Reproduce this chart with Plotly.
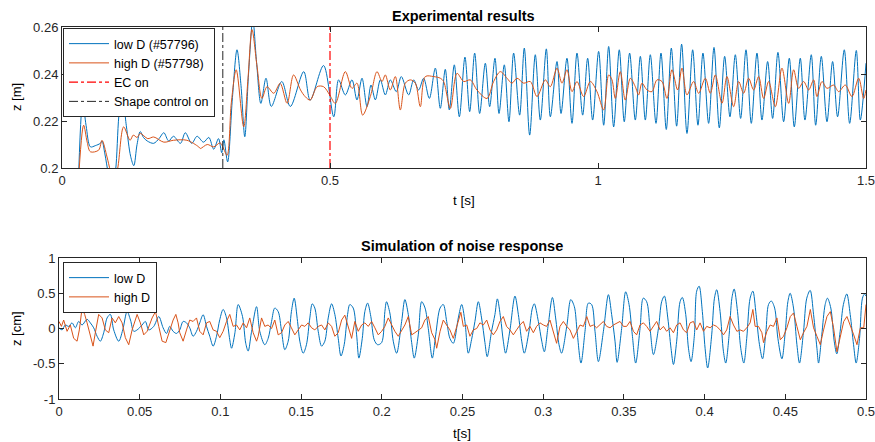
import plotly.graph_objects as go

# ---------------- data: experimental results ----------------
exp_low_t = [0.030, 0.0386, 0.045, 0.053, 0.062, 0.0715, 0.0746, 0.080, 0.086, 0.093, 0.100, 0.106, 0.112, 0.120,
             0.128, 0.134, 0.140, 0.146, 0.152, 0.159, 0.171, 0.181, 0.190, 0.199, 0.208, 0.221, 0.230, 0.242,
             0.252, 0.264, 0.274, 0.283, 0.292, 0.298, 0.302, 0.309, 0.318, 0.3265, 0.334, 0.341, 0.348, 0.356,
             0.363, 0.371, 0.3806, 0.3905, 0.410, 0.426, 0.451, 0.463, 0.488, 0.507, 0.516, 0.5286, 0.541, 0.5503,
             0.5597, 0.569, 0.5765, 0.5846, 0.5939, 0.6032, 0.6125, 0.6237, 0.633, 0.6467, 0.6561, 0.6654, 0.6747,
             0.6853, 0.6965, 0.7058, 0.7151, 0.7226, 0.7319, 0.7413, 0.7518, 0.7606, 0.7699, 0.7792, 0.7898, 0.7979,
             0.8078, 0.8153, 0.8252, 0.8339, 0.8426, 0.8538, 0.8625, 0.8725, 0.883, 0.8924, 0.9036, 0.9111, 0.9235,
             0.931, 0.9421, 0.9515, 0.9608, 0.9714, 0.9807, 0.990, 1.0012, 1.0106, 1.0199, 1.0292, 1.0397, 1.049,
             1.059, 1.0696, 1.079, 1.0883, 1.0976, 1.1082, 1.1175, 1.1274, 1.1368, 1.1467, 1.156, 1.166, 1.1766,
             1.1865, 1.1958, 1.2064, 1.2164, 1.2263, 1.2363, 1.2462, 1.2562, 1.2661, 1.2761, 1.286, 1.2966, 1.3059,
             1.3165, 1.3258, 1.3357, 1.3463, 1.3569, 1.3662, 1.3774, 1.3861, 1.3979, 1.4061, 1.4166, 1.4272, 1.4377,
             1.447, 1.4595, 1.4695, 1.4819, 1.4894, 1.5]
exp_low_z = [0.190, 0.228, 0.218, 0.209, 0.2095, 0.2105, 0.2115, 0.206, 0.198, 0.190, 0.199, 0.222, 0.232, 0.218,
             0.205, 0.201, 0.210, 0.2155, 0.213, 0.2115, 0.2105, 0.2125, 0.215, 0.2115, 0.2135, 0.2105, 0.215, 0.2105,
             0.2135, 0.211, 0.213, 0.208, 0.2125, 0.2065, 0.212, 0.2026, 0.230, 0.2503, 0.235, 0.2133, 0.240, 0.263,
             0.245, 0.2275, 0.2382, 0.2262, 0.2368, 0.2262, 0.241, 0.2289, 0.2436, 0.2218, 0.2375, 0.2311, 0.2375, 0.229,
             0.2382, 0.2261, 0.2353, 0.229, 0.2375, 0.2311, 0.2375, 0.2325, 0.2389, 0.2311, 0.2375, 0.2332, 0.2382,
             0.2296, 0.2425, 0.2254, 0.242, 0.2247, 0.2439, 0.2218, 0.2472, 0.224, 0.2489, 0.2232, 0.2446, 0.2261,
             0.2467, 0.2232, 0.2439, 0.2197, 0.2489, 0.2225, 0.251, 0.214, 0.2482, 0.2204, 0.2507, 0.2218, 0.2453,
             0.2232, 0.2467, 0.219, 0.2489, 0.2225, 0.2467, 0.2204, 0.2496, 0.2182, 0.2517, 0.2175, 0.2503, 0.2197,
             0.2489, 0.2204, 0.2475, 0.2204, 0.2482, 0.219, 0.2489, 0.2164, 0.251, 0.2178, 0.2527, 0.2147, 0.2503,
             0.2182, 0.2489, 0.219, 0.2513, 0.2171, 0.2475, 0.2218, 0.2482, 0.2211, 0.2503, 0.219, 0.2489, 0.2204,
             0.2453, 0.2211, 0.2492, 0.2197, 0.2467, 0.2175, 0.2467, 0.2204, 0.2482, 0.2182, 0.2475, 0.2197, 0.2453,
             0.2218, 0.2503, 0.219, 0.25, 0.2204, 0.2446]

exp_high_t = [0.030, 0.0404, 0.047, 0.053, 0.0684, 0.0746, 0.084, 0.090, 0.097, 0.104, 0.115, 0.127, 0.133, 0.140,
              0.146, 0.160, 0.171, 0.190, 0.208, 0.233, 0.255, 0.258, 0.271, 0.283, 0.295, 0.300, 0.308, 0.316,
              0.325, 0.339, 0.347, 0.3545, 0.364, 0.373, 0.3825, 0.395, 0.407, 0.420, 0.432, 0.445, 0.454, 0.463,
              0.476, 0.488, 0.4994, 0.5099, 0.5286, 0.541, 0.5503, 0.5609, 0.5752, 0.5877, 0.597, 0.6032, 0.6125,
              0.6219, 0.6312, 0.6405, 0.6499, 0.6592, 0.6685, 0.6778, 0.6934, 0.7058, 0.712, 0.7245, 0.7369, 0.7494,
              0.7618, 0.7742, 0.7929, 0.8053, 0.8178, 0.8302, 0.8395, 0.8489, 0.8613, 0.8737, 0.8862, 0.9017, 0.911,
              0.9235, 0.9328, 0.9421, 0.9515, 0.9608, 0.9732, 0.9857, 0.9981, 1.0106, 1.0199, 1.0261, 1.0323, 1.0416,
              1.0509, 1.0603, 1.0696, 1.0758, 1.082, 1.0914, 1.1007, 1.11, 1.1194, 1.1287, 1.138, 1.1486, 1.1567,
              1.166, 1.1784, 1.1878, 1.2002, 1.2095, 1.2189, 1.2313, 1.2406, 1.2531, 1.2624, 1.2717, 1.281, 1.2904,
              1.2997, 1.309, 1.3184, 1.3308, 1.3432, 1.3557, 1.365, 1.3743, 1.3837, 1.393, 1.4023, 1.4085, 1.4179,
              1.4272, 1.4396, 1.449, 1.4614, 1.4738, 1.4863, 1.4956, 1.5]
exp_high_z = [0.192, 0.2182, 0.211, 0.2069, 0.2076, 0.2118, 0.2047, 0.199, 0.194, 0.200, 0.2175, 0.2118, 0.214, 0.213,
              0.2147, 0.2125, 0.2132, 0.211, 0.2118, 0.2118, 0.209, 0.2083, 0.210, 0.209, 0.2107, 0.209, 0.2054, 0.228,
              0.2418, 0.2175, 0.238, 0.2589, 0.243, 0.2296, 0.2346, 0.2318, 0.236, 0.2275, 0.2396, 0.2332, 0.2303, 0.2289,
              0.2346, 0.2346, 0.2311, 0.2275, 0.241, 0.2339, 0.2361, 0.2225, 0.2304, 0.241, 0.2368, 0.2396, 0.2332,
              0.2389, 0.2247, 0.2361, 0.2375, 0.2361, 0.2261, 0.2389, 0.2389, 0.2382, 0.2368, 0.2254, 0.2403, 0.2368,
              0.2375, 0.2332, 0.2296, 0.2368, 0.241, 0.2382, 0.2361, 0.2382, 0.2361, 0.2368, 0.2304, 0.2375, 0.2346,
              0.2425, 0.2361, 0.2418, 0.2325, 0.2368, 0.2304, 0.2368, 0.2325, 0.2247, 0.2396, 0.2375, 0.2296, 0.241,
              0.2289, 0.2382, 0.2346, 0.2311, 0.2361, 0.2332, 0.2325, 0.2375, 0.2368, 0.2296, 0.2418, 0.2332, 0.2425,
              0.2311, 0.2368, 0.2318, 0.2382, 0.2318, 0.2396, 0.2275, 0.2389, 0.2261, 0.2368, 0.2318, 0.2382, 0.2332,
              0.2389, 0.2296, 0.2368, 0.2261, 0.2425, 0.2275, 0.2418, 0.2339, 0.2368, 0.2332, 0.2375, 0.2304, 0.2368,
              0.2339, 0.2353, 0.2325, 0.2353, 0.2304, 0.2382, 0.2296, 0.2332]

ec_on_time = 0.5
shape_control_time = 0.3
exp_z_range = [0.2, 0.26]

# ---------------- data: simulation of noise response ----------------
sim_low_t = [0.0, 0.0019, 0.0039, 0.006, 0.0081, 0.0101, 0.0122, 0.0143, 0.0174, 0.0194, 0.0215, 0.0236, 0.0256,
             0.0277, 0.0298, 0.0318, 0.0339, 0.037, 0.0395, 0.0422, 0.0443, 0.0463, 0.0484, 0.0515, 0.0535, 0.0556,
             0.0587, 0.0618, 0.0645, 0.0666, 0.0686, 0.0707, 0.0728, 0.0748, 0.0769, 0.079, 0.081, 0.0831, 0.0852,
             0.0872, 0.0893, 0.0914, 0.0934, 0.0955, 0.0976, 0.0996, 0.1017, 0.1038, 0.1058, 0.1069, 0.109, 0.111,
             0.1137, 0.1157, 0.1172, 0.1192, 0.1224, 0.1244, 0.1275, 0.1296, 0.1317, 0.1337, 0.1358, 0.1379, 0.1399,
             0.142, 0.144, 0.1457, 0.1478, 0.1492, 0.1513, 0.1533, 0.1554, 0.1569, 0.1585, 0.1606, 0.1627, 0.1647,
             0.1668, 0.1689, 0.1709, 0.173, 0.1747, 0.1767, 0.1788, 0.1802, 0.1823, 0.1844, 0.1858, 0.1879, 0.1895,
             0.1912, 0.1932, 0.1953, 0.1974, 0.1999, 0.2019, 0.2029, 0.205, 0.2071, 0.2092, 0.2123, 0.2143, 0.2164,
             0.2185, 0.2201, 0.2226, 0.2247, 0.2268, 0.2288, 0.2313, 0.2334, 0.2361, 0.2381, 0.2402, 0.2422, 0.2443,
             0.2474, 0.2495, 0.2515, 0.2536, 0.2556, 0.2577, 0.2598, 0.2618, 0.2639, 0.2653, 0.268, 0.2701, 0.2716,
             0.2736, 0.2753, 0.2767, 0.2794, 0.2825, 0.2846, 0.2867, 0.2883, 0.2912, 0.2933, 0.2945, 0.297, 0.2991,
             0.3007, 0.3031, 0.3057, 0.3077, 0.3098, 0.3114, 0.3146, 0.3171, 0.3193, 0.321, 0.3234, 0.3259, 0.328,
             0.33, 0.3321, 0.3342, 0.3373, 0.3404, 0.3424, 0.3445, 0.3458, 0.3486, 0.3511, 0.3532, 0.3552, 0.3573,
             0.36, 0.362, 0.3641, 0.3662, 0.3683, 0.3714, 0.3734, 0.3751, 0.3772, 0.3792, 0.3807, 0.3827, 0.3848,
             0.3862, 0.3883, 0.39, 0.3916, 0.3937, 0.3951, 0.3966, 0.3986, 0.4003, 0.4019, 0.4044, 0.4061, 0.4075,
             0.4096, 0.4117, 0.4131, 0.4152, 0.4169, 0.4183, 0.4204, 0.4224, 0.4243, 0.4261, 0.4282, 0.4299, 0.4319,
             0.434, 0.4359, 0.438, 0.4396, 0.4413, 0.4434, 0.4454, 0.4479, 0.45, 0.4516, 0.453, 0.4551, 0.4572,
             0.4588, 0.4613, 0.4633, 0.4654, 0.4675, 0.4696, 0.4706, 0.4726, 0.4747, 0.4761, 0.4782, 0.4803, 0.4819,
             0.484, 0.486, 0.4881, 0.4902, 0.4923, 0.4939, 0.496, 0.4978, 0.4991, 0.5]
sim_low_z = [0.01, -0.02, 0.05, 0.03, 0.08, 0.01, 0.1, 0.05, 0.13, 0.08, 0.01, -0.11, -0.18,
             -0.06, 0.15, 0.2, -0.02, -0.18, -0.02, 0.24, 0.12, -0.04, -0.02, 0.05, 0.1, -0.02,
             0.03, 0.17, 0.01, -0.07, 0.03, -0.04, -0.07, -0.02, 0.1, 0.08, 0.01, -0.11, -0.04,
             0.08, 0.195, 0.03, -0.11, -0.25, -0.11, 0.125, 0.27, 0.15, -0.16, -0.28, -0.06, 0.34,
             0.17, -0.21, -0.32, -0.06, 0.31, -0.04, -0.23, -0.14, 0.10, 0.29, 0.24, -0.04, -0.30,
             -0.18, 0.24, 0.43, 0.10, -0.18, -0.35, -0.23, 0.15, 0.35, 0.29, -0.04, -0.25, -0.18,
             0.15, 0.35, 0.2, -0.14, -0.39, -0.23, 0.2, 0.34, 0.29, -0.09, -0.42, -0.14, 0.24,
             0.36, 0.17, -0.16, -0.23, -0.2, 0.24, 0.38, 0.22, -0.18, -0.35, 0.1, 0.41, 0.2,
             -0.2, -0.42, -0.09, 0.38, 0.29, 0.0, -0.42, -0.09, 0.29, 0.34, 0.1, -0.14, -0.21,
             0.15, 0.34, 0.1, -0.35, -0.16, 0.1, 0.38, 0.15, -0.2, -0.4, -0.04, 0.2, 0.42,
             0.15, -0.18, -0.35, -0.02, 0.46, 0.2, -0.18, -0.35, -0.04, 0.29, 0.35, 0.1, -0.18,
             -0.33, 0.05, 0.44, 0.15, -0.23, -0.35, 0.03, 0.41, 0.31, -0.04, -0.49, -0.04, 0.36,
             0.34, -0.04, -0.47, -0.04, 0.48, 0.2, -0.18, -0.48, 0.0, 0.52, 0.34, -0.09, -0.49,
             0.0, 0.43, 0.38, 0.0, -0.37, 0.0, 0.38, 0.46, 0.15, -0.28, -0.51, -0.18, 0.38,
             0.44, 0.2, -0.28, -0.47, -0.09, 0.53, 0.6, 0.24, -0.28, -0.56, -0.09, 0.43, 0.55,
             0.24, -0.33, -0.49, -0.09, 0.43, 0.56, 0.24, -0.28, -0.49, -0.14, 0.43, 0.53, 0.2,
             -0.23, -0.43, -0.04, 0.34, 0.39, 0.29, -0.14, -0.43, -0.04, 0.38, 0.5, 0.29, -0.23,
             -0.49, -0.04, 0.43, 0.54, 0.2, -0.28, -0.49, -0.09, 0.34, 0.43, 0.29, -0.18, -0.36,
             -0.04, 0.34, 0.49, 0.2, -0.23, -0.49, -0.14, 0.43, 0.49, 0.46]

sim_high_t = [0.0, 0.0015, 0.0029, 0.005, 0.007, 0.0091, 0.0112, 0.0126, 0.0143, 0.0159, 0.0174, 0.0194, 0.0211,
              0.0225, 0.0246, 0.0267, 0.0287, 0.0308, 0.0329, 0.0349, 0.037, 0.0391, 0.0411, 0.0432, 0.0453, 0.0484,
              0.0504, 0.0525, 0.0546, 0.0577, 0.0598, 0.0618, 0.0639, 0.0662, 0.0686, 0.0707, 0.0724, 0.0738, 0.0748,
              0.0769, 0.079, 0.081, 0.0831, 0.0852, 0.0872, 0.0893, 0.0914, 0.0934, 0.0955, 0.0976, 0.0996, 0.1017,
              0.1038, 0.1058, 0.1079, 0.11, 0.112, 0.1141, 0.1162, 0.1182, 0.1203, 0.1224, 0.1234, 0.1255, 0.1275,
              0.1296, 0.1317, 0.1337, 0.1358, 0.1379, 0.1399, 0.142, 0.144, 0.1461, 0.1482, 0.1503, 0.1523, 0.1544,
              0.1565, 0.1585, 0.1606, 0.1627, 0.1647, 0.1668, 0.1689, 0.1709, 0.173, 0.1751, 0.1771, 0.1792, 0.1813,
              0.1833, 0.1854, 0.1875, 0.1895, 0.1916, 0.1937, 0.1957, 0.1978, 0.1999, 0.2019, 0.204, 0.2061, 0.2081,
              0.2102, 0.2123, 0.2143, 0.2164, 0.2185, 0.2205, 0.2226, 0.2247, 0.2267, 0.2288, 0.2309, 0.233, 0.234,
              0.2361, 0.2381, 0.2402, 0.2422, 0.2443, 0.2474, 0.249, 0.2505, 0.2526, 0.2546, 0.2567, 0.2588, 0.2608,
              0.2629, 0.265, 0.267, 0.2691, 0.2712, 0.2732, 0.2753, 0.2773, 0.2794, 0.2815, 0.2835, 0.2856, 0.2877,
              0.2897, 0.2918, 0.2939, 0.2959, 0.298, 0.3001, 0.3021, 0.3042, 0.3063, 0.3083, 0.3104, 0.3125, 0.3146,
              0.3166, 0.3187, 0.3208, 0.3228, 0.3249, 0.327, 0.329, 0.3311, 0.3331, 0.3352, 0.3373, 0.3393, 0.3414,
              0.3435, 0.3455, 0.3476, 0.3497, 0.3517, 0.3538, 0.3559, 0.3579, 0.36, 0.3621, 0.3641, 0.3662, 0.3683,
              0.3703, 0.3724, 0.3745, 0.3765, 0.3786, 0.3807, 0.3827, 0.3848, 0.3869, 0.3889, 0.391, 0.3931, 0.3951,
              0.3972, 0.3993, 0.4013, 0.4034, 0.4055, 0.4075, 0.4096, 0.4117, 0.4137, 0.4158, 0.4179, 0.42, 0.422,
              0.4241, 0.4261, 0.4282, 0.4299, 0.4313, 0.4334, 0.4355, 0.4365, 0.4386, 0.4406, 0.4427, 0.4448, 0.4469,
              0.4489, 0.451, 0.4531, 0.4551, 0.4572, 0.4593, 0.4613, 0.4634, 0.4655, 0.4675, 0.4696, 0.4717, 0.4737,
              0.4758, 0.4779, 0.4799, 0.482, 0.4841, 0.4862, 0.4882, 0.4903, 0.4924, 0.4944, 0.4965, 0.4986, 0.5]
sim_high_z = [0.1, 0.03, 0.12, -0.04, 0.05, -0.14, -0.18, -0.02, 0.29, 0.2, 0.08, -0.11, -0.25,
              -0.06, 0.2, 0.15, -0.02, -0.06, 0.15, 0.08, 0.17, 0.08, -0.13, -0.23, -0.02, 0.2,
              0.08, -0.09, -0.04, 0.15, 0.24, 0.03, -0.18, -0.2, -0.02, 0.12, 0.2, 0.08, -0.06,
              -0.18, -0.02, 0.12, 0.1, 0.15, -0.04, -0.09, 0.08, 0.1, -0.02, -0.04, -0.13, -0.04,
              0.1, 0.2, 0.03, 0.05, -0.02, 0.08, 0.01, 0.15, -0.06, -0.18, -0.11, 0.15, 0.03,
              0.05, 0.0, 0.12, -0.09, -0.06, 0.05, 0.1, 0.01, -0.09, -0.02, 0.05, 0.03, 0.08,
              0.01, -0.02, 0.03, 0.05, -0.02, 0.08, 0.03, -0.11, -0.06, 0.12, 0.19, 0.03, -0.14,
              0.1, -0.04, 0.05, 0.08, 0.03, 0.1, 0.01, -0.09, -0.04, 0.03, 0.15, 0.05, -0.04,
              -0.11, -0.02, 0.05, 0.17, -0.09, -0.06, -0.02, 0.01, 0.12, 0.17, -0.06, -0.16, -0.28,
              -0.04, 0.12, 0.05, -0.02, -0.14, 0.1, 0.23, 0.03, 0.05, -0.11, -0.02, 0.0, 0.08,
              0.05, 0.12, -0.02, -0.09, -0.02, 0.1, 0.17, 0.03, -0.02, -0.09, -0.02, 0.05, 0.1,
              -0.04, 0.03, -0.06, 0.03, 0.08, 0.05, 0.03, 0.12, -0.04, -0.21, 0.03, 0.1, 0.03,
              -0.02, -0.14, -0.04, 0.05, 0.03, 0.17, 0.03, 0.05, 0.01, 0.05, 0.1, 0.03, 0.01,
              0.05, 0.08, 0.1, 0.03, 0.03, 0.1, -0.04, -0.09, 0.05, 0.08, 0.03, -0.04, 0.03,
              0.1, -0.02, 0.03, -0.04, 0.01, -0.06, 0.05, 0.08, -0.02, -0.06, 0.08, 0.1, -0.02,
              0.08, -0.04, 0.03, 0.01, 0.05, 0.03, -0.02, -0.09, -0.02, 0.17, 0.05, -0.04, -0.02,
              -0.04, 0.01, 0.08, 0.27, 0.03, 0.03, -0.06, -0.2, -0.04, 0.05, 0.03, 0.15, -0.16,
              -0.11, 0.01, 0.17, 0.22, 0.03, -0.16, -0.06, 0.03, 0.27, 0.01, -0.11, -0.23, -0.02,
              0.17, 0.24, 0.01, -0.33, -0.09, 0.1, 0.17, 0.05, -0.09, -0.23, 0.01, 0.01, 0.34]

exp_t_ticks = [0, 0.5, 1, 1.5]
exp_t_labels = ["0", "0.5", "1", "1.5"]
exp_z_ticks = [0.2, 0.22, 0.24, 0.26]
exp_z_labels = ["0.2", "0.22", "0.24", "0.26"]
sim_t_ticks = [0, 0.05, 0.1, 0.15, 0.2, 0.25, 0.3, 0.35, 0.4, 0.45, 0.5]
sim_t_labels = ["0", "0.05", "0.1", "0.15", "0.2", "0.25", "0.3", "0.35", "0.4", "0.45", "0.5"]
sim_z_ticks = [-1, -0.5, 0, 0.5, 1]
sim_z_labels = ["-1", "-0.5", "0", "0.5", "1"]

BLUE = "#0072BD"
ORANGE = "#D95319"
AX = "#262626"
FONT = "Liberation Sans, Arial, Helvetica, sans-serif"

W, H = 875, 442

fig = go.Figure()

fig.add_trace(go.Scatter(x=exp_low_t, y=exp_low_z, mode="lines", name="low D (#57796)",
                         line=dict(color=BLUE, width=1, shape="spline", smoothing=0.9),
                         xaxis="x", yaxis="y", legend="legend"))
fig.add_trace(go.Scatter(x=exp_high_t, y=exp_high_z, mode="lines", name="high D (#57798)",
                         line=dict(color=ORANGE, width=1, shape="spline", smoothing=0.9),
                         xaxis="x", yaxis="y", legend="legend"))
fig.add_trace(go.Scatter(x=[ec_on_time, ec_on_time], y=exp_z_range, mode="lines", name="EC on",
                         line=dict(color="#FF0000", width=1.2, dash="dashdot"),
                         xaxis="x", yaxis="y", legend="legend"))
fig.add_trace(go.Scatter(x=[shape_control_time, shape_control_time], y=exp_z_range, mode="lines",
                         name="Shape control on",
                         line=dict(color=AX, width=1, dash="dashdot"),
                         xaxis="x", yaxis="y", legend="legend"))

fig.add_trace(go.Scatter(x=sim_low_t, y=sim_low_z, mode="lines", name="low D",
                         line=dict(color=BLUE, width=1, shape="spline", smoothing=0.9),
                         xaxis="x2", yaxis="y2", legend="legend2"))
fig.add_trace(go.Scatter(x=sim_high_t, y=sim_high_z, mode="lines", name="high D",
                         line=dict(color=ORANGE, width=1),
                         xaxis="x2", yaxis="y2", legend="legend2"))

def px_x(p):
    return p / W

def px_y(p):
    return 1 - p / H

axis_common = dict(showline=True, linecolor=AX, linewidth=1, mirror="ticks", ticks="inside",
                   ticklen=5, tickcolor=AX, tickwidth=1, showgrid=False, zeroline=False,
                   automargin=False, ticklabeloverflow="allow",
                   tickfont=dict(family=FONT, size=13, color=AX))

fig.update_layout(
    template="none",
    width=W, height=H,
    margin=dict(l=0, r=0, t=0, b=0, pad=0, autoexpand=False),
    paper_bgcolor="white", plot_bgcolor="white",
    font=dict(family=FONT, color=AX),
    xaxis=dict(domain=[px_x(62), px_x(866)], range=[0, 1.5], tickvals=exp_t_ticks, ticktext=exp_t_labels,
               anchor="y", **axis_common),
    yaxis=dict(domain=[px_y(168), px_y(27)], range=exp_z_range, tickvals=exp_z_ticks, ticktext=exp_z_labels,
               anchor="x", **axis_common),
    xaxis2=dict(domain=[px_x(59), px_x(866)], range=[0, 0.5], tickvals=sim_t_ticks, ticktext=sim_t_labels,
                anchor="y2", **axis_common),
    yaxis2=dict(domain=[px_y(399), px_y(258)], range=[-1, 1], tickvals=sim_z_ticks, ticktext=sim_z_labels,
                anchor="x2", **axis_common),
    legend=dict(x=px_x(63), y=px_y(28), xanchor="left", yanchor="top", bgcolor="white",
                bordercolor=AX, borderwidth=1, font=dict(family=FONT, size=12.5, color="#000000"),
                tracegroupgap=0, itemwidth=40),
    legend2=dict(x=px_x(63), y=px_y(262), xanchor="left", yanchor="top", bgcolor="white",
                 bordercolor=AX, borderwidth=1, font=dict(family=FONT, size=12.5, color="#000000"),
                 tracegroupgap=0, itemwidth=40),
    showlegend=True,
)

annos = [
    dict(text="<b>Experimental results</b>", x=px_x(464), y=px_y(16), size=14.5),
    dict(text="<b>Simulation of noise response</b>", x=px_x(462), y=px_y(246), size=14.5),
    dict(text="t [s]", x=px_x(464), y=px_y(201), size=13.5),
    dict(text="t[s]", x=px_x(462), y=px_y(433), size=13.5),
]
for a in annos:
    fig.add_annotation(text=a["text"], x=a["x"], y=a["y"], xref="paper", yref="paper",
                       showarrow=False, xanchor="center", yanchor="middle",
                       font=dict(family=FONT, size=a["size"], color="#000000"))
for txt, yc in [("z [m]", 97), ("z [cm]", 329)]:
    fig.add_annotation(text=txt, x=px_x(16), y=px_y(yc), xref="paper", yref="paper", showarrow=False,
                       textangle=-90, xanchor="center", yanchor="middle", borderpad=0,
                       font=dict(family=FONT, size=13, color="#000000"))

# remove the browser's default page margin so the figure fills the window exactly
fig.write_html("out.html", config={"displayModeBar": False, "staticPlot": True},
               post_script="document.body.style.margin='0px';document.body.style.overflow='hidden';")
